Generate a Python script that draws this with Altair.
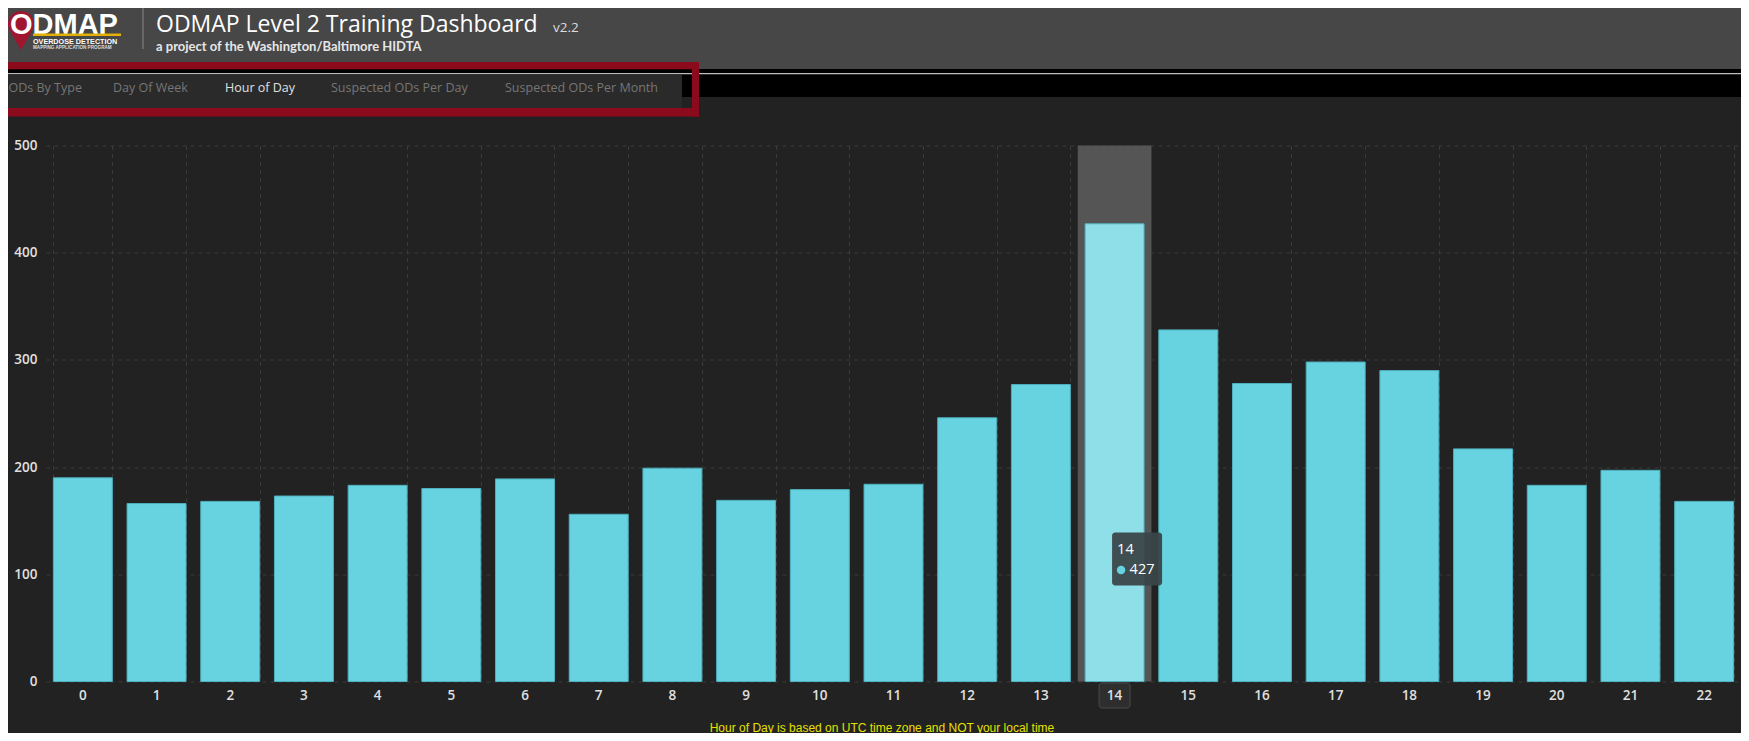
import altair as alt
import pandas as pd

# ---------------- data ----------------
hours = list(range(23))
counts = [190, 166, 168, 173, 183, 180, 189, 156, 199, 169, 179, 184,
          246, 277, 427, 328, 278, 298, 290, 217, 183, 197, 168]
y_ticks = [0, 100, 200, 300, 400, 500]
tab_labels = ["ODs By Type", "Day Of Week", "Hour of Day",
              "Suspected ODs Per Day", "Suspected ODs Per Month"]
active_tab = "Hour of Day"
highlight_hour = 14
title_text = "ODMAP Level 2 Training Dashboard"
version_text = "v2.2"
subtitle_text = "a project of the Washington/Baltimore HIDTA"
footer_text = "Hour of Day is based on UTC time zone and NOT your local time"
logo_text = "ODMAP"
logo_line1 = "OVERDOSE DETECTION"
logo_line2 = "MAPPING APPLICATION PROGRAM"

# ---------------- layout / style ----------------
W, H = 1695, 536
STEP = W / len(hours)
BAR = "#67d3e0"
BAR_HI = "#8fdfe9"
GRID = "#3a3a3a"
LBL = "#e0e0e0"
RED = "#8b0a1c"
FONT = "Open Sans"

df = pd.DataFrame({"hour": hours, "count": counts})
one = pd.DataFrame({"k": [0]})

x_enc = alt.X("hour:O",
              scale=alt.Scale(paddingInner=0.2, paddingOuter=0.1),
              axis=alt.Axis(labels=False, ticks=False, domain=False, grid=True,
                            tickBand="extent", gridColor=GRID, gridDash=[4, 4],
                            title=None))
y_enc = alt.Y("count:Q",
              scale=alt.Scale(domain=[0, 500], nice=False),
              axis=alt.Axis(values=y_ticks, ticks=False, domain=False, grid=True,
                            gridColor=GRID, gridDash=[4, 4], labelColor=LBL,
                            labelFont=FONT, labelFontSize=13.5, labelFontWeight=600,
                            labelPadding=9, title=None))


def box(x, x2, y, y2, color, **kw):
    return alt.Chart(one).mark_rect(color=color, **kw).encode(
        x=alt.value(x), x2=alt.value(x2), y=alt.value(y), y2=alt.value(y2))


def label(text, x, y, **kw):
    return alt.Chart(pd.DataFrame({"t": [text]})).mark_text(**kw).encode(
        text="t:N", x=alt.value(x), y=alt.value(y))


layers = []

# ---- header chrome ----
layers += [
    box(-60, 1720, -160, -76.5, "#474747"),
    box(636, 1720, -76.5, -48.5, "#000000"),
    box(-60, 636, -70.5, -37.5, "#2a2a2a"),
    box(-60, 636, -76.5, -70.5, "#000000"),
    box(-60, 1720, -72.6, -71.3, "#bdbdbd"),
    box(-60, 653, -83.5, -76.2, RED),
    box(646, 653, -83.5, -29, RED),
    box(-60, 653, -37.5, -29, RED),
]

# logo
pin_path = "M0,1 L-0.433,0.25 A0.5,0.5 0 1,1 0.433,0.25 Z"
layers.append(alt.Chart(one).mark_point(shape=pin_path, filled=True, color="#a0162e",
                                        opacity=1, size=2704, strokeWidth=0).encode(
    x=alt.value(-25), y=alt.value(-121.5)))
layers.append(label(logo_text, -36, -112, align="left", baseline="alphabetic",
                    font="Liberation Sans", fontWeight="bold", fontSize=29,
                    color="#ffffff"))
layers.append(box(-13, 75, -112, -109.6, "#e2b007"))
layers.append(label(logo_line1, -13, -103.5, align="left", baseline="middle",
                    font="Liberation Sans", fontWeight="bold", fontSize=7.2,
                    color="#ffffff"))
layers.append(label(logo_line2, -13, -97.5, align="left", baseline="middle",
                    font="Liberation Sans", fontWeight="bold", fontSize=4.6,
                    color="#dddddd"))
layers.append(box(96.5, 97.5, -138.5, -96.5, "#8a8a8a"))

# title block
layers.append(label(title_text, 110, -113.5, align="left", baseline="alphabetic",
                    font=FONT, fontSize=23, color="#ffffff"))
layers.append(label(version_text, 507, -113.5, align="left", baseline="alphabetic",
                    font=FONT, fontSize=13.5, color="#dddddd"))
layers.append(label(subtitle_text, 110, -95, align="left", baseline="alphabetic",
                    font="Lato", fontWeight="bold", fontSize=13, color="#e6e6e6"))

# tabs
tab_x = [-37.5, 67, 179, 285, 459]
for name, tx in zip(tab_labels, tab_x):
    layers.append(label(name, tx, -57.5, align="left", baseline="middle",
                        font=FONT, fontSize=12.5,
                        color=LBL if name == active_tab else "#767676"))

# ---- chart ----
sel = alt.datum.hour == highlight_hour
base = alt.Chart(df)

layers.append(base.transform_filter(sel).mark_bar(width=STEP, color="#555555")
              .encode(x=x_enc, y=alt.datum(500), y2=alt.datum(0)))
layers.append(base.mark_bar(stroke="#4fb0be", strokeWidth=1).encode(
    x=x_enc, y=y_enc,
    color=alt.condition(sel, alt.value(BAR_HI), alt.value(BAR))))

# x label highlight box + x labels
layers.append(base.transform_filter(sel).mark_bar(width=31, cornerRadius=3,
                                                   fill="#2e2e2e", stroke="#4a4a4a")
              .encode(x=x_enc, y=alt.value(537.5), y2=alt.value(562.5)))
layers.append(base.mark_text(font=FONT, fontSize=13.5, fontWeight=600, color=LBL,
                             baseline="middle")
              .encode(x=x_enc, text="hour:O", y=alt.value(550)))

# tooltip
tip = base.transform_filter(sel)
layers.append(tip.mark_bar(width=50, xOffset=22.5, cornerRadius=3, fill="#3a4649",
                           opacity=0.95)
              .encode(x=x_enc, y=alt.value(387), y2=alt.value(440)))
layers.append(tip.mark_text(xOffset=2.5, align="left", baseline="middle", font=FONT,
                            fontSize=14.5, color="#ffffff")
              .encode(x=x_enc, text="hour:O", y=alt.value(404)))
layers.append(tip.mark_circle(xOffset=6.5, size=72, color=BAR, opacity=1)
              .encode(x=x_enc, y=alt.value(424.5)))
layers.append(tip.mark_text(xOffset=15, align="left", baseline="middle", font=FONT,
                            fontSize=14.5, color="#ffffff")
              .encode(x=x_enc, text="count:Q", y=alt.value(424.5)))

# footer
layers.append(label(footer_text, 836, 582, align="center", baseline="middle",
                    font="Liberation Sans", fontSize=12, color="#e6e000"))

chart = alt.layer(*layers).properties(
    width=W, height=H,
    autosize=alt.AutoSizeParams(type="none"),
    padding={"left": 38, "top": 137.5, "right": 0, "bottom": 51.5},
).configure(background="#222222").configure_view(stroke=None)

chart.save("out.html", embed_options={"renderer": "svg", "actions": False})
